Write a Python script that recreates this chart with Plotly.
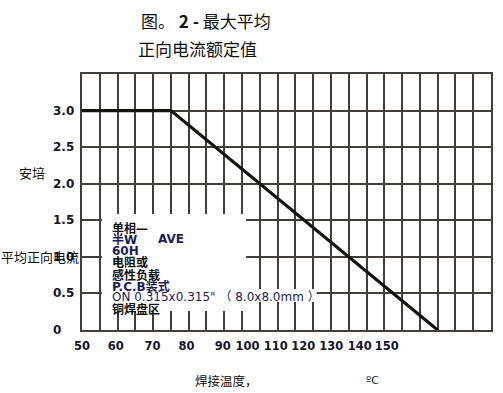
import plotly.graph_objects as go

# ---- data ----
temp_c = [50, 75, 150]           # soldering temperature (°C)
current_a = [3.0, 3.0, 0.0]      # average forward current (A)

x_tick_text = ["50", "60", "70", "80", "90", "100", "110", "120", "130", "140", "150"]
x_tick_pos = [50.0, 59.5, 69.8, 79.4, 89.6, 96.5, 104.5, 112.2, 120.1, 128.1, 135.7]
y_tick_vals = [0, 0.5, 1.0, 1.5, 2.0, 2.5, 3.0]
y_tick_text = ["0", "0.5", "1.0", "1.5", "2.0", "2.5", "3.0"]

title_line1 = "图。 <b>2 -</b> 最大平均"
title_line2 = "正向电流额定值"
y_title_1 = "安培"
y_title_2 = "平均正向电流"
x_title_1 = "焊接温度，"
x_title_2 = "ºC"

note_lines = [
    ("单相—", "#111111", True),
    ("半W", "#1c1c5a", True),
    ("60H", "#1c1c5a", True),
    ("电阻或", "#111111", True),
    ("感性负载", "#111111", True),
    ("P.C.B装式", "#1c1c5a", True),
    ("ON 0.315x0.315\" （ 8.0x8.0mm ）", "#1c1c5a", False),
    ("铜焊盘区", "#111111", True),
]

# ---- layout geometry (pixels) ----
W, H = 503, 393
L, R, T, B = 82, 493.3, 74, 330
PW, PH = R - L, B - T

def px(x):
    return (x - L) / PW

def py(y):
    return (B - y) / PH

GRID = "#433d3b"
CJK = "Noto Sans CJK SC"
TICKFONT = dict(family="DejaVu Sans", size=11.5, color="#14142e")

fig = go.Figure()
fig.add_trace(go.Scatter(
    x=temp_c, y=current_a, mode="lines",
    line=dict(color="#151212", width=3.2),
    hoverinfo="skip", showlegend=False,
))

annotations = []
# title
annotations.append(dict(text=title_line1, x=px(139), y=py(20), xref="paper", yref="paper",
                        xanchor="left", yanchor="middle", showarrow=False,
                        font=dict(family=CJK, size=17, color="#111111")))
annotations.append(dict(text=title_line2, x=px(136), y=py(48), xref="paper", yref="paper",
                        xanchor="left", yanchor="middle", showarrow=False,
                        font=dict(family=CJK, size=17, color="#111111")))
# y tick labels (left aligned)
for v, t in zip(y_tick_vals, y_tick_text):
    annotations.append(dict(text="<b>%s</b>" % t, x=px(51), y=v, xref="paper", yref="y",
                            xanchor="left", yanchor="middle", showarrow=False,
                            font=dict(family="DejaVu Sans", size=12, color="#14142e")))
# y titles
annotations.append(dict(text=y_title_1, x=px(32), y=py(172), xref="paper", yref="paper",
                        xanchor="center", yanchor="middle", showarrow=False,
                        font=dict(family=CJK, size=13, color="#111111")))
annotations.append(dict(text=y_title_2, x=px(40), y=py(256), xref="paper", yref="paper",
                        xanchor="center", yanchor="middle", showarrow=False,
                        font=dict(family=CJK, size=13, color="#111111")))
# x titles
annotations.append(dict(text=x_title_1, x=px(194), y=py(380), xref="paper", yref="paper",
                        xanchor="left", yanchor="middle", showarrow=False,
                        font=dict(family=CJK, size=12.5, color="#111111")))
annotations.append(dict(text=x_title_2, x=px(366), y=py(380), xref="paper", yref="paper",
                        xanchor="left", yanchor="middle", showarrow=False,
                        font=dict(family="DejaVu Sans", size=11, color="#1c1c5a")))
# note text in white box
note_y = [228, 239, 251, 262, 275, 286, 297, 309]
for (t, c, bold), yy in zip(note_lines, note_y):
    annotations.append(dict(text=("<b>%s</b>" % t) if bold else t, x=px(110), y=py(yy),
                            xref="paper", yref="paper", xanchor="left", yanchor="middle",
                            showarrow=False,
                            font=dict(family="DejaVu Sans, " + CJK, size=12, color=c)))
annotations.append(dict(text="<b>AVE</b>", x=px(156), y=py(239), xref="paper", yref="paper",
                        xanchor="left", yanchor="middle", showarrow=False,
                        font=dict(family="DejaVu Sans", size=12, color="#1c1c5a")))

shapes = [
    dict(type="rect", xref="paper", yref="paper", x0=px(102), x1=px(247), y0=py(311), y1=py(214),
         fillcolor="white", line=dict(width=0), layer="above"),
    dict(type="rect", xref="paper", yref="paper", x0=px(230), x1=px(318), y0=py(302), y1=py(289),
         fillcolor="white", line=dict(width=0), layer="above"),
]

fig.update_layout(
    width=W, height=H,
    margin=dict(l=L, r=W - R, t=T, b=H - B, pad=0),
    paper_bgcolor="white", plot_bgcolor="white",
    showlegend=False,
    annotations=annotations,
    shapes=shapes,
    xaxis=dict(
        range=[50, 165], tickmode="array", tickvals=x_tick_pos,
        ticktext=["<b>%s</b>" % t for t in x_tick_text],
        tickfont=TICKFONT, tickangle=0, ticks="", showgrid=False, zeroline=False,
        showline=True, linecolor=GRID, linewidth=2, mirror=True,
        ticklabelstandoff=4,
        minor=dict(tickmode="linear", tick0=50, dtick=5, showgrid=True,
                   gridcolor=GRID, gridwidth=1.8, ticks=""),
    ),
    yaxis=dict(
        range=[0, 3.5], tickmode="linear", tick0=0, dtick=0.5,
        showticklabels=False, ticks="", showgrid=True, gridcolor=GRID, gridwidth=1.8,
        zeroline=False, showline=True, linecolor=GRID, linewidth=2, mirror=True,
    ),
)

fig.write_html("out.html")
